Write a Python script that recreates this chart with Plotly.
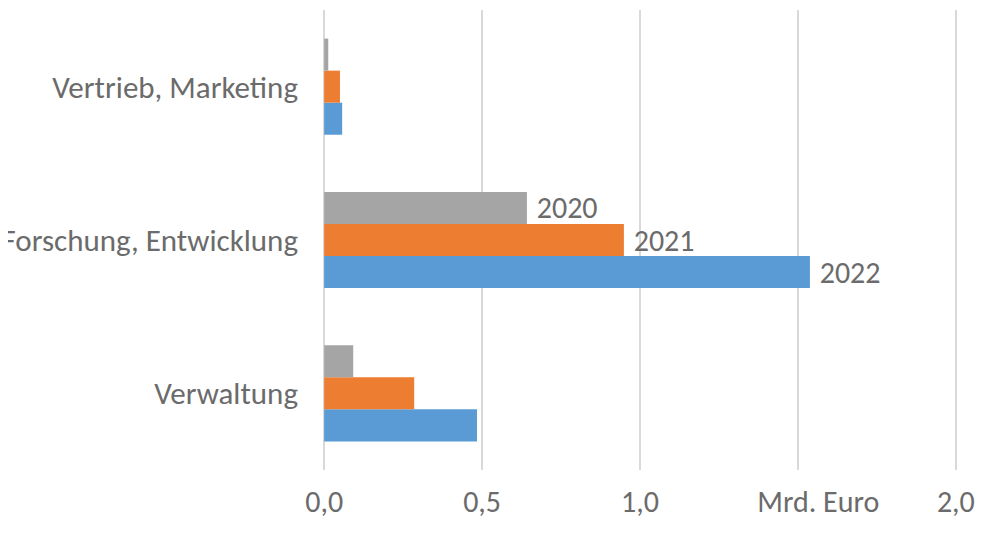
import plotly.graph_objects as go

categories = ["Verwaltung", "Forschung, Entwicklung", "Vertrieb, Marketing"]
years = ["2022", "2021", "2020"]
values_2022 = [0.484, 1.538, 0.057]
values_2021 = [0.285, 0.949, 0.050]
values_2020 = [0.092, 0.642, 0.013]
labelled_category = "Forschung, Entwicklung"
tick_vals = [0.0, 0.5, 1.0, 1.5, 2.0]
tick_text = ["0,0", "0,5", "1,0", "\u00a0" * 6 + "Mrd. Euro", "2,0"]

colors = {"2022": "#5B9BD5", "2021": "#ED7D31", "2020": "#A5A5A5"}
series = {"2022": values_2022, "2021": values_2021, "2020": values_2020}

FONT = "Carlito, Lato, sans-serif"
TEXT_COLOR = "#6b6b6b"

fig = go.Figure()
for y in years:
    fig.add_trace(go.Bar(
        y=categories,
        x=series[y],
        orientation="h",
        name=y,
        marker=dict(color=colors[y], line=dict(width=0)),
        text=[" " + y if c == labelled_category else "" for c in categories],
        textposition="outside",
        constraintext="none",
        textfont=dict(family=FONT, size=30, color=TEXT_COLOR),
        cliponaxis=False,
        hoverinfo="skip",
    ))

fig.update_layout(
    width=1000,
    height=542,
    barmode="group",
    bargap=0.373,
    bargroupgap=0,
    showlegend=False,
    plot_bgcolor="white",
    paper_bgcolor="white",
    margin=dict(l=313, r=49, t=2, b=80, autoexpand=False),
    font=dict(family=FONT, color=TEXT_COLOR),
    xaxis=dict(
        range=[-0.01, 2.01],
        tickvals=tick_vals,
        ticktext=tick_text,
        showgrid=True,
        gridcolor="#d9d9d9",
        gridwidth=2,
        zeroline=False,
        showline=False,
        ticks="",
        automargin=False,
        tickfont=dict(family=FONT, size=30, color=TEXT_COLOR),
        ticklabelstandoff=11,
    ),
    yaxis=dict(
        showgrid=False,
        zeroline=False,
        showline=False,
        ticks="",
        automargin=False,
        tickfont=dict(family=FONT, size=31, color=TEXT_COLOR),
        ticklabelstandoff=22,
    ),
)

fig.write_html("out.html")
